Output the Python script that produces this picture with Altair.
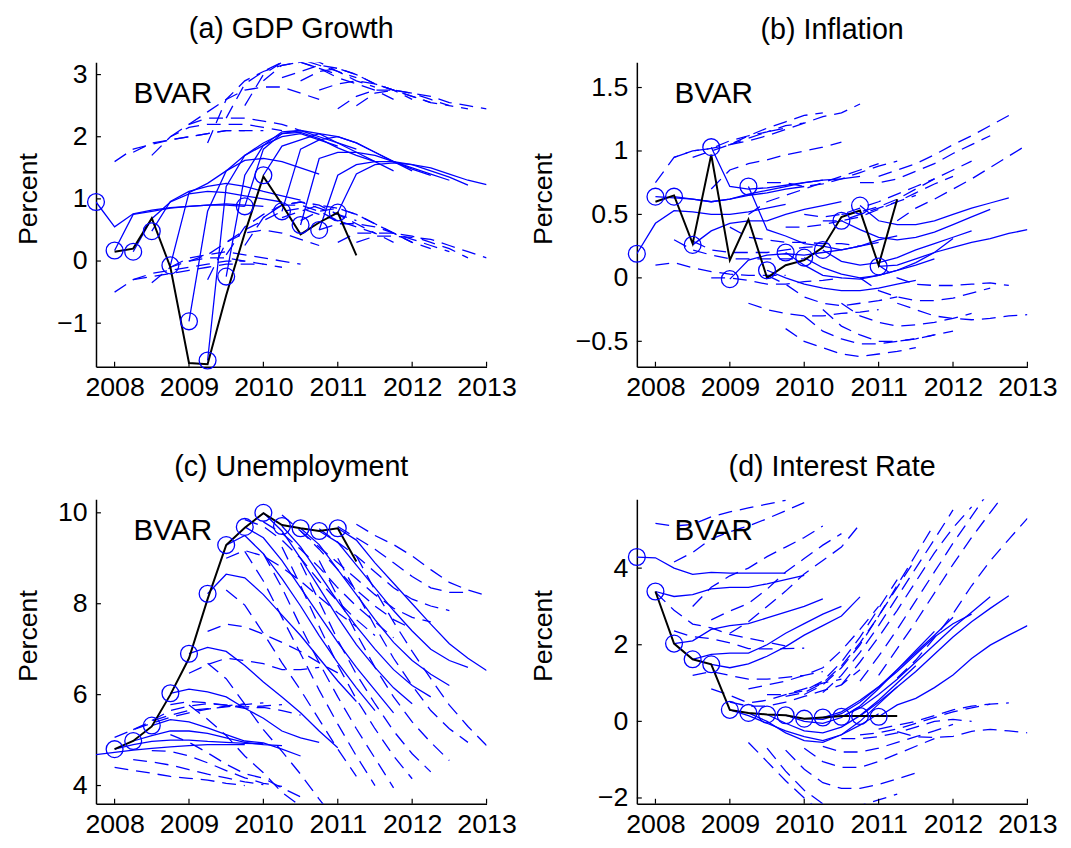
import altair as alt
import pandas as pd

# ---------------- shared axes data ----------------
origins = [2007.75, 2008.0, 2008.25, 2008.5, 2008.75, 2009.0, 2009.25, 2009.5,
           2009.75, 2010.0, 2010.25, 2010.5, 2010.75, 2011.0]
actual_dates = [2008.0, 2008.25, 2008.5, 2008.75, 2009.0, 2009.25, 2009.5,
                2009.75, 2010.0, 2010.25, 2010.5, 2010.75, 2011.0, 2011.25]
years = [2008, 2009, 2010, 2011, 2012, 2013]
x_domain = [2007.75, 2013]

# ---------------- (a) GDP growth ----------------
gdp_circles = [0.95, 0.17, 0.15, 0.48, -0.07, -0.97, -1.6, -0.25, 0.88, 1.38, 0.8, 0.58, 0.5, 0.78]
gdp_actual = [0.15, 0.2, 0.69, -0.1, -1.64, -1.66, -0.55, 0.45, 1.36, 0.91, 0.43, 0.62, 0.78, 0.09]
gdp_mean = [
    [0.55, 0.76, 0.82, 0.86, 0.88, 0.9, 0.9, 0.88],
    [0.75, 0.8, 0.85, 0.88, 0.9, 0.92, 0.9, 0.88],
    [0.68, 0.95, 1.08, 1.12, 1.1, 1.05, 1.0, 0.95],
    [0.96, 1.12, 1.2, 1.25, 1.2, 1.12, 1.05, 0.98],
    [1.1, 1.25, 1.45, 1.62, 1.65, 1.6, 1.5, 1.4],
    [0.8, 1.45, 1.7, 1.86, 2.0, 2.05, 1.95, 1.85],
    [1.2, 1.7, 1.9, 2.05, 2.1, 2.0, 1.9, 1.8],
    [1.38, 1.86, 2.08, 2.1, 2.05, 1.9, 1.75, 1.6],
    [1.8, 2.05, 2.07, 1.97, 1.82, 1.7, 1.6, 1.45],
    [1.85, 1.95, 2.05, 2.0, 1.9, 1.75, 1.6, 1.45],
    [1.8, 1.95, 2.0, 1.9, 1.75, 1.6, 1.48, 1.38],
    [1.65, 1.75, 1.75, 1.7, 1.6, 1.5, 1.4, 1.3],
    [1.38, 1.55, 1.6, 1.6, 1.55, 1.45, 1.35, 1.22],
    [1.4, 1.55, 1.58, 1.55, 1.5, 1.4, 1.3, 1.23],
]
gdp_upper = [
    [1.6, 1.8, 1.88, 1.95, 2.0, 2.05, 2.1, 2.1],
    [1.75, 1.9, 1.95, 2.0, 2.05, 2.1, 2.1, 2.1],
    [1.7, 2.0, 2.15, 2.2, 2.2, 2.2, 2.15, 2.1],
    [2.0, 2.2, 2.3, 2.3, 2.3, 2.25, 2.2, 2.1],
    [2.2, 2.4, 2.6, 2.75, 2.8, 2.8, 2.7, 2.6],
    [1.9, 2.6, 2.9, 3.05, 3.15, 3.2, 3.1, 3.0],
    [2.3, 2.85, 3.05, 3.2, 3.25, 3.15, 3.05, 2.95],
    [2.5, 3.0, 3.2, 3.25, 3.2, 3.05, 2.9, 2.8],
    [2.9, 3.15, 3.2, 3.1, 2.95, 2.85, 2.75, 2.6],
    [2.95, 3.05, 3.15, 3.1, 3.0, 2.85, 2.75, 2.6],
    [2.9, 3.05, 3.1, 3.0, 2.85, 2.75, 2.65, 2.55],
    [2.75, 2.85, 2.9, 2.85, 2.75, 2.65, 2.55, 2.5],
    [2.45, 2.65, 2.75, 2.75, 2.7, 2.6, 2.5, 2.45],
    [2.5, 2.7, 2.75, 2.7, 2.65, 2.55, 2.5, 2.45],
]
gdp_lower = [
    [-0.5, -0.3, -0.2, -0.15, -0.1, -0.05, 0.0, 0.0],
    [-0.3, -0.25, -0.2, -0.15, -0.1, -0.05, -0.05, -0.05],
    [-0.35, -0.1, 0.0, 0.05, 0.05, 0.0, -0.05, -0.1],
    [-0.1, 0.05, 0.1, 0.15, 0.1, 0.05, 0.0, -0.05],
    [0.0, 0.1, 0.3, 0.45, 0.5, 0.45, 0.35, 0.25],
    [-0.3, 0.3, 0.5, 0.65, 0.8, 0.85, 0.75, 0.65],
    [0.1, 0.55, 0.75, 0.9, 0.95, 0.85, 0.75, 0.65],
    [0.25, 0.7, 0.9, 0.95, 0.9, 0.75, 0.6, 0.45],
    [0.7, 0.9, 0.9, 0.8, 0.65, 0.55, 0.45, 0.3],
    [0.7, 0.8, 0.9, 0.85, 0.75, 0.6, 0.45, 0.3],
    [0.65, 0.8, 0.85, 0.75, 0.6, 0.45, 0.3, 0.2],
    [0.5, 0.6, 0.6, 0.55, 0.45, 0.35, 0.25, 0.15],
    [0.3, 0.45, 0.45, 0.45, 0.4, 0.3, 0.2, 0.05],
    [0.3, 0.4, 0.4, 0.38, 0.35, 0.25, 0.15, 0.05],
]
gdp_ticks = [-1, 0, 1, 2, 3]
gdp_domain = [-1.7, 3.2]

# ---------------- (b) Inflation ----------------
infl_circles = [0.19, 0.64, 0.64, 0.26, 1.03, -0.01, 0.72, 0.06, 0.2, 0.16, 0.22, 0.45, 0.57, 0.09]
infl_actual = [0.6, 0.65, 0.27, 0.97, 0.14, 0.46, 0.0, 0.1, 0.14, 0.24, 0.48, 0.53, 0.1, 0.62]
infl_mean = [
    [0.43, 0.53, 0.52, 0.5, 0.5, 0.52, 0.55, 0.58],
    [0.63, 0.62, 0.6, 0.62, 0.65, 0.67, 0.7, 0.72],
    [0.62, 0.6, 0.62, 0.66, 0.69, 0.72, 0.75, 0.77],
    [0.37, 0.43, 0.45, 0.45, 0.5, 0.54, 0.57, 0.6],
    [0.72, 0.7, 0.71, 0.73, 0.75, 0.77, 0.78, 0.8],
    [0.14, 0.18, 0.19, 0.18, 0.2, 0.22, 0.25, 0.28],
    [0.38, 0.33, 0.27, 0.25, 0.22, 0.25, 0.3, 0.33],
    [0.0, -0.05, -0.08, -0.1, -0.1, -0.08, -0.05, -0.02],
    [0.1, 0.02, 0.0, -0.01, 0.02, 0.06, 0.1, 0.15],
    [0.08, 0.03, 0.0, 0.02, 0.06, 0.12, 0.2, 0.31],
    [0.13, 0.1, 0.12, 0.16, 0.22, 0.27, 0.32, 0.37],
    [0.38, 0.32, 0.3, 0.32, 0.36, 0.42, 0.48, 0.54],
    [0.45, 0.42, 0.42, 0.45, 0.5, 0.55, 0.59, 0.63],
    [0.1, 0.15, 0.2, 0.24, 0.28, 0.31, 0.35, 0.38],
]
infl_upper = [
    [0.75, 0.95, 1.0, 1.02, 1.05, 1.1, 1.15, 1.18],
    [0.95, 1.0, 1.02, 1.08, 1.12, 1.15, 1.2, 1.22],
    [0.95, 1.0, 1.05, 1.12, 1.18, 1.23, 1.28, 1.3],
    [0.7, 0.85, 0.9, 0.93, 0.97, 1.0, 1.03, 1.07],
    [1.05, 1.08, 1.12, 1.17, 1.22, 1.27, 1.3, 1.37],
    [0.5, 0.6, 0.65, 0.7, 0.75, 0.8, 0.85, 0.9],
    [0.75, 0.75, 0.72, 0.74, 0.78, 0.83, 0.88, 0.92],
    [0.4, 0.4, 0.42, 0.45, 0.5, 0.55, 0.6, 0.65],
    [0.5, 0.48, 0.5, 0.55, 0.6, 0.66, 0.72, 0.78],
    [0.45, 0.45, 0.48, 0.54, 0.6, 0.67, 0.74, 0.8],
    [0.5, 0.52, 0.56, 0.62, 0.7, 0.78, 0.85, 0.92],
    [0.75, 0.75, 0.78, 0.84, 0.9, 0.98, 1.05, 1.12],
    [0.8, 0.85, 0.9, 0.97, 1.05, 1.12, 1.2, 1.28],
    [0.45, 0.55, 0.62, 0.7, 0.78, 0.87, 0.96, 1.05],
]
infl_lower = [
    [0.1, 0.12, 0.08, 0.05, 0.03, 0.02, 0.02, 0.02],
    [0.3, 0.22, 0.18, 0.15, 0.15, 0.15, 0.15, 0.15],
    [0.29, 0.22, 0.2, 0.2, 0.2, 0.22, 0.24, 0.25],
    [0.0, 0.0, -0.02, -0.05, -0.05, -0.03, -0.02, 0.0],
    [0.4, 0.32, 0.3, 0.28, 0.28, 0.27, 0.27, 0.25],
    [-0.2, -0.25, -0.28, -0.3, -0.3, -0.28, -0.27, -0.25],
    [0.02, -0.05, -0.15, -0.2, -0.22, -0.2, -0.18, -0.15],
    [-0.4, -0.5, -0.55, -0.6, -0.62, -0.6, -0.58, -0.55],
    [-0.3, -0.42, -0.48, -0.52, -0.52, -0.5, -0.48, -0.45],
    [-0.25, -0.38, -0.45, -0.5, -0.5, -0.48, -0.45, -0.42],
    [-0.2, -0.3, -0.35, -0.38, -0.37, -0.35, -0.32, -0.28],
    [0.0, -0.1, -0.15, -0.18, -0.18, -0.16, -0.12, -0.08],
    [0.1, 0.0, -0.05, -0.06, -0.06, -0.05, -0.04, -0.06],
    [-0.2, -0.25, -0.3, -0.32, -0.33, -0.32, -0.3, -0.29],
]
infl_ticks = [-0.5, 0, 0.5, 1, 1.5]
infl_domain = [-0.7, 1.7]

# ---------------- (c) Unemployment ----------------
unemp_circles = [None, 4.8, 4.98, 5.32, 6.03, 6.9, 8.22, 9.29, 9.69, 10.0, 9.71, 9.66, 9.6, 9.66]
unemp_first_start = 4.68
unemp_actual = [4.8, 4.98, 5.3, 6.0, 6.8, 8.1, 9.29, 9.67, 9.99, 9.73, 9.66, 9.6, 9.66, 8.93]
unemp_mean = [
    [4.73, 4.78, 4.82, 4.85, 4.88, 4.9, 4.9, 4.9],
    [4.9, 4.97, 5.0, 5.0, 4.97, 4.95, 4.93, 4.92],
    [5.1, 5.2, 5.2, 5.15, 5.05, 4.95, 4.9, 4.88],
    [5.45, 5.4, 5.27, 5.12, 4.98, 4.94, 4.8, 4.65],
    [6.12, 6.06, 5.95, 5.7, 5.48, 5.2, 5.05, 4.95],
    [7.04, 6.95, 6.64, 6.28, 5.95, 5.6, 5.2, 4.83],
    [8.65, 8.57, 8.2, 7.75, 7.3, 6.8, 6.3, 5.85],
    [9.5, 9.1, 8.55, 7.95, 7.3, 6.7, 6.15, 5.65],
    [9.45, 8.95, 8.35, 7.75, 7.15, 6.6, 6.1, 5.6],
    [9.6, 9.0, 8.35, 7.7, 7.1, 6.6, 6.15, 5.8],
    [9.25, 8.65, 8.05, 7.5, 7.0, 6.55, 6.2, 5.95],
    [9.3, 8.75, 8.2, 7.65, 7.15, 6.75, 6.45, 6.2],
    [9.35, 8.85, 8.35, 7.85, 7.4, 7.0, 6.75, 6.6],
    [9.4, 8.9, 8.45, 8.0, 7.55, 7.12, 6.8, 6.53],
]
unemp_upper = [
    [5.06, 5.23, 5.37, 5.5, 5.6, 5.68, 5.75, 5.8],
    [5.23, 5.42, 5.55, 5.65, 5.69, 5.73, 5.78, 5.82],
    [5.43, 5.65, 5.75, 5.8, 5.77, 5.73, 5.75, 5.78],
    [5.78, 5.85, 5.82, 5.77, 5.7, 5.72, 5.65, 5.55],
    [6.47, 6.66, 6.8, 6.75, 6.68, 6.55, 6.55, 6.6],
    [7.39, 7.55, 7.49, 7.33, 7.15, 6.95, 6.7, 6.48],
    [9.0, 9.17, 9.05, 8.8, 8.5, 8.15, 7.8, 7.5],
    [9.85, 9.7, 9.4, 9.0, 8.5, 8.05, 7.65, 7.3],
    [9.8, 9.55, 9.2, 8.8, 8.35, 7.95, 7.6, 7.25],
    [9.95, 9.6, 9.2, 8.75, 8.3, 7.95, 7.65, 7.45],
    [9.6, 9.25, 8.9, 8.55, 8.2, 7.9, 7.7, 7.6],
    [9.65, 9.35, 9.05, 8.7, 8.35, 8.1, 7.95, 7.85],
    [9.7, 9.45, 9.2, 8.9, 8.6, 8.35, 8.25, 8.25],
    [9.75, 9.5, 9.3, 9.05, 8.75, 8.47, 8.3, 8.18],
]
unemp_lower = [
    [4.4, 4.33, 4.27, 4.2, 4.16, 4.12, 4.05, 4.0],
    [4.57, 4.52, 4.45, 4.35, 4.25, 4.17, 4.08, 4.02],
    [4.77, 4.75, 4.65, 4.5, 4.33, 4.17, 4.05, 3.98],
    [5.12, 4.95, 4.72, 4.47, 4.26, 4.16, 3.95, 3.75],
    [5.77, 5.46, 5.1, 4.65, 4.28, 3.85, 3.55, 3.3],
    [6.69, 6.35, 5.79, 5.23, 4.75, 4.25, 3.7, 3.18],
    [8.3, 7.97, 7.35, 6.7, 6.1, 5.45, 4.8, 4.2],
    [9.15, 8.5, 7.7, 6.9, 6.1, 5.35, 4.65, 4.0],
    [9.1, 8.35, 7.5, 6.7, 5.95, 5.25, 4.6, 3.95],
    [9.25, 8.4, 7.5, 6.65, 5.9, 5.25, 4.65, 4.15],
    [8.9, 8.05, 7.2, 6.45, 5.8, 5.2, 4.7, 4.3],
    [8.95, 8.15, 7.35, 6.6, 5.95, 5.4, 4.95, 4.55],
    [9.0, 8.25, 7.5, 6.8, 6.2, 5.65, 5.25, 4.95],
    [9.05, 8.3, 7.6, 6.95, 6.35, 5.77, 5.3, 4.88],
]
unemp_ticks = [4, 6, 8, 10]
unemp_domain = [3.6, 10.3]

# ---------------- (d) Interest rate ----------------
rate_circles = [4.29, 3.39, 2.03, 1.62, 1.49, 0.3, 0.22, 0.18, 0.16, 0.07, 0.1, 0.12, 0.14, 0.12]
rate_actual = [3.39, 2.03, 1.62, 1.49, 0.3, 0.22, 0.18, 0.16, 0.07, 0.1, 0.14, 0.14, 0.14, 0.14]
rate_mean = [
    [4.27, 4.0, 3.84, 3.89, 3.87, 3.87, 3.87, 3.87],
    [3.26, 3.31, 3.46, 3.5, 3.5, 3.59, 3.7, 3.81],
    [2.1, 2.4, 2.5, 2.55, 2.7, 2.85, 3.0, 3.2],
    [1.75, 1.78, 1.78, 2.0, 2.3, 2.55, 2.8, 3.0],
    [1.4, 1.5, 1.7, 1.95, 2.25, 2.5, 2.75, 3.25],
    [0.15, -0.05, -0.25, -0.4, -0.5, -0.35, -0.1, 0.2],
    [0.0, -0.3, -0.5, -0.55, -0.35, 0.0, 0.45, 0.9],
    [-0.05, -0.25, -0.3, -0.15, 0.15, 0.55, 1.0, 1.45],
    [0.0, -0.05, 0.1, 0.4, 0.85, 1.35, 1.85, 2.35],
    [0.05, 0.2, 0.5, 0.9, 1.35, 1.8, 2.25, 2.72],
    [0.25, 0.55, 0.9, 1.3, 1.75, 2.2, 2.55, 2.8],
    [0.35, 0.7, 1.1, 1.55, 2.0, 2.45, 2.85, 3.25],
    [0.5, 0.9, 1.3, 1.75, 2.2, 2.6, 2.95, 3.28],
    [0.43, 0.6, 0.88, 1.21, 1.64, 1.99, 2.25, 2.5],
]
rate_upper = [
    [5.17, 5.1, 5.14, 5.34, 5.47, 5.57, 5.67, 5.77],
    [4.16, 4.41, 4.76, 4.95, 5.1, 5.29, 5.5, 5.71],
    [3.0, 3.5, 3.8, 4.0, 4.3, 4.55, 4.8, 5.1],
    [2.65, 2.88, 3.08, 3.45, 3.9, 4.25, 4.6, 4.9],
    [2.3, 2.6, 3.0, 3.4, 3.85, 4.2, 4.55, 5.15],
    [0.85, 0.95, 1.05, 1.2, 1.4, 1.85, 2.4, 3.0],
    [0.7, 0.7, 0.8, 1.05, 1.55, 2.2, 2.95, 3.7],
    [0.65, 0.75, 1.0, 1.45, 2.05, 2.75, 3.5, 4.25],
    [0.7, 0.95, 1.4, 2.0, 2.75, 3.55, 4.35, 5.15],
    [0.75, 1.2, 1.8, 2.5, 3.25, 4.0, 4.75, 5.52],
    [0.95, 1.55, 2.2, 2.9, 3.65, 4.4, 5.05, 5.6],
    [1.05, 1.7, 2.4, 3.15, 3.9, 4.65, 5.35, 6.05],
    [1.2, 1.9, 2.6, 3.35, 4.1, 4.8, 5.45, 6.08],
    [1.13, 1.6, 2.18, 2.81, 3.54, 4.19, 4.75, 5.3],
]
rate_lower = [
    [3.37, 2.9, 2.54, 2.44, 2.27, 2.17, 2.07, 1.97],
    [2.36, 2.21, 2.16, 2.05, 1.9, 1.89, 1.9, 1.91],
    [1.2, 1.3, 1.2, 1.1, 1.1, 1.15, 1.2, 1.3],
    [0.85, 0.68, 0.48, 0.55, 0.7, 0.85, 1.0, 1.1],
    [0.5, 0.4, 0.4, 0.5, 0.65, 0.8, 0.95, 1.35],
    [-0.55, -1.05, -1.55, -2.0, -2.4, -2.55, -2.6, -2.6],
    [-0.7, -1.3, -1.8, -2.15, -2.25, -2.2, -2.05, -1.9],
    [-0.75, -1.25, -1.6, -1.75, -1.75, -1.65, -1.5, -1.35],
    [-0.7, -1.05, -1.2, -1.2, -1.05, -0.85, -0.65, -0.45],
    [-0.65, -0.8, -0.8, -0.7, -0.55, -0.4, -0.25, -0.08],
    [-0.45, -0.45, -0.4, -0.3, -0.15, 0.0, 0.05, 0.0],
    [-0.35, -0.3, -0.2, -0.05, 0.1, 0.25, 0.35, 0.45],
    [-0.2, -0.1, 0.0, 0.15, 0.3, 0.4, 0.45, 0.48],
    [-0.27, -0.4, -0.42, -0.39, -0.26, -0.21, -0.25, -0.3],
]
rate_ticks = [-2, 0, 2, 4]
rate_domain = [-2.15, 5.8]

# ---------------- style ----------------
BLUE = "#0000ff"
FONT = "Liberation Sans"
FS = 27
W, H = 395, 308


def panel(title, circles, starts, actual, mean, upper, lower, ydom, yticks, yfmt, title_x):
    mean_rows, band_rows = [], []
    for i, o in enumerate(origins):
        mean_rows.append({"path": i, "t": o, "v": starts[i]})
        for h in range(8):
            t = o + 0.25 * (h + 1)
            mean_rows.append({"path": i, "t": t, "v": mean[i][h]})
            band_rows.append({"path": f"u{i}", "t": t, "v": upper[i][h]})
            band_rows.append({"path": f"l{i}", "t": t, "v": lower[i][h]})
    mean_df = pd.DataFrame(mean_rows)
    band_df = pd.DataFrame(band_rows)
    circ_df = pd.DataFrame([{"t": o, "v": c} for o, c in zip(origins, circles) if c is not None])
    act_df = pd.DataFrame({"t": actual_dates, "v": actual})

    xs = alt.Scale(domain=x_domain, nice=False, zero=False)
    ys = alt.Scale(domain=ydom, nice=False, zero=False)
    x_axis = alt.Axis(values=years, format="d", title=None, ticks=False,
                      labelFont=FONT, labelFontSize=FS, labelColor="black",
                      labelPadding=8, labelFlush=False, labelOverlap=False,
                      domainColor="black", domainWidth=1.5, grid=False)
    y_axis = alt.Axis(values=yticks, format=yfmt, title="Percent", titleX=title_x,
                      titleY=H / 2 - 16,
                      titleBaseline="middle", titleFont=FONT, titleFontSize=FS,
                      titleFontWeight="normal", titleColor="black", ticks=False,
                      labelFont=FONT, labelFontSize=FS, labelColor="black",
                      labelPadding=9, labelFlush=False, labelOverlap=False,
                      domainColor="black", domainWidth=1.5, grid=False)
    X = alt.X("t:Q", scale=xs, axis=x_axis)
    Y = alt.Y("v:Q", scale=ys, axis=y_axis)

    bands = alt.Chart(band_df).mark_line(
        color=BLUE, strokeWidth=1.3, strokeDash=[14, 8], clip=True
    ).encode(x=X, y=Y, detail="path:N")
    means = alt.Chart(mean_df).mark_line(color=BLUE, strokeWidth=1.3, clip=True).encode(
        x=X, y=Y, detail="path:N")
    act = alt.Chart(act_df).mark_line(color="black", strokeWidth=2).encode(x=X, y=Y)
    circ = alt.Chart(circ_df).mark_point(
        shape="circle", filled=False, size=290, color=BLUE, strokeWidth=1.3, opacity=1
    ).encode(x=X, y=Y)
    ytk = alt.Chart(pd.DataFrame({"v": yticks})).mark_rule(color="black", strokeWidth=1.2).encode(
        y=Y, x=alt.value(0), x2=alt.value(5))
    xtk = alt.Chart(pd.DataFrame({"t": years})).mark_rule(color="black", strokeWidth=1.2).encode(
        x=X, y=alt.value(H), y2=alt.value(H - 5))
    lbl = alt.Chart(pd.DataFrame({"s": ["BVAR"]})).mark_text(
        align="left", baseline="alphabetic", font=FONT, fontSize=30, color="black"
    ).encode(text="s:N", x=alt.value(38), y=alt.value(41))

    return alt.layer(bands, means, act, circ, ytk, xtk, lbl).properties(
        width=W, height=H,
        title=alt.TitleParams(title, font=FONT, fontSize=29, fontWeight="normal",
                              color="black", anchor="middle", baseline="alphabetic",
                              offset=-6),
    )


unemp_starts = [unemp_first_start if c is None else c for c in unemp_circles]

pa = panel("(a) GDP Growth", gdp_circles, gdp_circles, gdp_actual, gdp_mean, gdp_upper,
           gdp_lower, gdp_domain, gdp_ticks, "d", -68)
pb = panel("(b) Inflation", infl_circles, infl_circles, infl_actual, infl_mean, infl_upper,
           infl_lower, infl_domain, infl_ticks, ".1~f", -94)
pc = panel("(c) Unemployment", unemp_circles, unemp_starts, unemp_actual, unemp_mean,
           unemp_upper, unemp_lower, unemp_domain, unemp_ticks, "d", -68)
pdd = panel("(d) Interest Rate", rate_circles, rate_circles, rate_actual, rate_mean, rate_upper,
            rate_lower, rate_domain, rate_ticks, "d", -94)

chart = alt.concat(
    pa, pb, pc, pdd, columns=2, spacing={"row": 134, "column": 152}, bounds="flush"
).properties(
    padding={"left": 7, "top": 2, "right": 5, "bottom": 5}, background="white"
).configure_view(stroke=None)

chart.save("out.html", embed_options={"renderer": "svg", "actions": False})
